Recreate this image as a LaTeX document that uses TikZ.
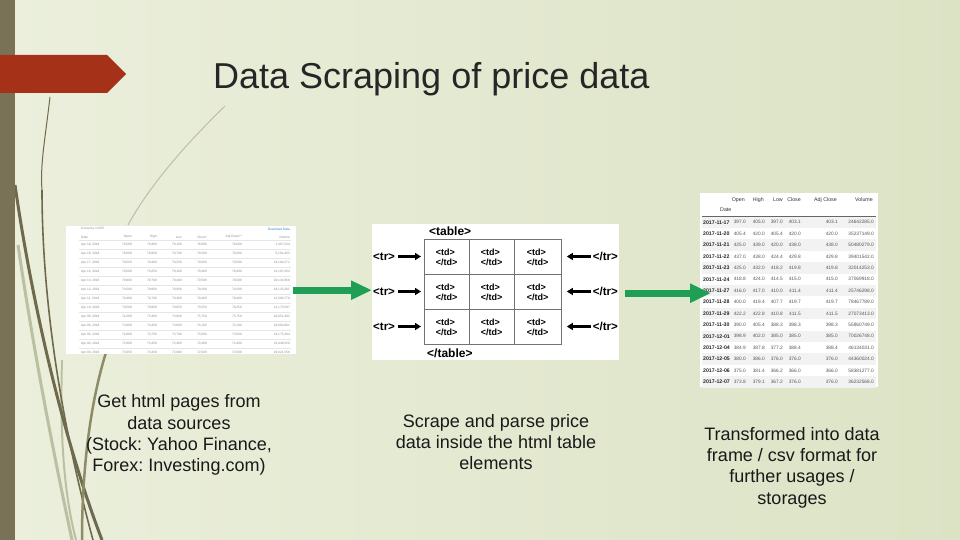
\documentclass[tikz,border=0pt]{standalone}
\usepackage{fontspec}
\setmainfont{Liberation Sans}
\usetikzlibrary{arrows.meta}
\frenchspacing
\definecolor{bgL}{HTML}{EBEFDC}
\definecolor{bgR}{HTML}{DCE3C5}
\definecolor{barcol}{HTML}{7A7256}
\definecolor{redcol}{HTML}{A53218}
\definecolor{wispD}{HTML}{6F6A4B}
\definecolor{wispM}{HTML}{8E8B68}
\definecolor{wispL}{HTML}{BCC0A2}
\definecolor{greenarr}{HTML}{1E9F55}
\definecolor{txtgray}{HTML}{555555}
\definecolor{linkblue}{HTML}{3A7FC4}
\tikzset{
  capt/.style={align=center, font=\fontsize{18}{21.3}\selectfont, text=black!90, inner sep=0},
  greenarrow/.style={draw=greenarr, line width=7pt, -{Triangle[length=21pt,width=18pt]}},
  blackarr/.style={draw=black, line width=2.2pt, -{Triangle[length=6pt,width=7pt]}},
  trtxt/.style={font=\fontsize{11.5}{12}\bfseries\selectfont, inner sep=0},
  tabtxt/.style={font=\fontsize{12}{12}\bfseries\selectfont, inner sep=0},
  celltxt/.style={font=\fontsize{9}{9.5}\bfseries\selectfont, align=left, inner sep=0},
  tinytxt/.style={font=\fontsize{3.2}{3.2}\selectfont, text=black!45, inner sep=0},
  dftxt/.style={font=\fontsize{4.8}{4.8}\selectfont, text=txtgray, inner sep=0},
  dfhdr/.style={font=\fontsize{5.3}{5.3}\selectfont, text=black!80, inner sep=0},
  dfbold/.style={font=\fontsize{5.2}{5.2}\bfseries\selectfont, text=black!85, inner sep=0},
  imgbox/.style={fill=white, inner sep=0, anchor=north west},
}
\begin{document}
\begin{tikzpicture}[x=1pt,y=-1pt]
\useasboundingbox (0,0) rectangle (960,540);
\shade[left color=bgL, right color=bgR] (0,0) rectangle (960,540);
% wisps
\draw[wispL, line width=1pt] (225,106) .. controls (185,145) and (150,185) .. (128,225);
\draw[wispL, line width=3pt] (18,245) .. controls (35,360) and (55,460) .. (72,540);
\draw[wispL, line width=2pt] (62,360) .. controls (60,430) and (63,490) .. (76,540);
\draw[wispD, line width=1pt] (50,97) .. controls (45,140) and (40,165) .. (42,190);
\draw[wispD, line width=1.6pt] (42,190) .. controls (42,280) and (55,400) .. (93,540);
\draw[wispD, line width=3pt] (15,185) .. controls (30,290) and (60,430) .. (102,540);
\draw[wispM, line width=2.5pt] (112,335) .. controls (95,380) and (82,450) .. (82,540);
% left bar and red arrow
\fill[barcol] (0,0) rectangle (15,540);
\fill[redcol] (0,55) -- (107,55) -- (126,74) -- (107,93) -- (0,93) -- cycle;
% title
\node[anchor=base west, font=\fontsize{36}{36}\selectfont, text=black!85, inner sep=0] (title) at (213,89) {Data Scraping of price data};

% ---- left screenshot ----
\node[imgbox, minimum width=230, minimum height=128] (src) at (66,226) {};
\node[tinytxt, anchor=west] (cur) at (81,229) {Currency in IDR};
\node[tinytxt, anchor=east, text=linkblue] (dl) at (290,229) {Download Data};
\foreach \t/\x in {Open/132,High/157,Low/182,Close*/207,Adj Close**/242,Volume/290}
  \node[tinytxt, anchor=east] at (\x,237) {\t};
\node[tinytxt, anchor=west] at (81,237) {Date};
\foreach \d/\o/\h/\l/\c/\v [count=\k] in {
 {Apr 19, 2018}/{78,500}/{79,400}/{78,100}/{78,600}/{1,367,544},
 {Apr 18, 2018}/{78,600}/{78,900}/{78,700}/{79,200}/{5,161,453},
 {Apr 17, 2018}/{79,550}/{79,400}/{79,250}/{79,500}/{18,104,272},
 {Apr 16, 2018}/{79,500}/{79,250}/{79,100}/{79,400}/{12,197,204},
 {Apr 13, 2018}/{79,900}/{79,700}/{79,400}/{79,500}/{20,134,958},
 {Apr 12, 2018}/{79,200}/{79,900}/{78,900}/{79,200}/{18,125,201},
 {Apr 11, 2018}/{79,400}/{79,700}/{79,400}/{79,400}/{12,304,779},
 {Apr 10, 2018}/{79,500}/{79,900}/{79,050}/{79,250}/{21,175,597},
 {Apr 09, 2018}/{74,200}/{75,400}/{73,900}/{75,750}/{40,051,382},
 {Apr 06, 2018}/{73,600}/{74,400}/{73,600}/{74,100}/{26,664,661},
 {Apr 05, 2018}/{72,800}/{73,750}/{72,700}/{73,500}/{24,175,394},
 {Apr 04, 2018}/{72,900}/{73,450}/{72,400}/{72,400}/{23,446,520},
 {Apr 03, 2018}/{73,050}/{73,450}/{72,900}/{72,500}/{29,621,556}} {
  \pgfmathsetmacro{\yy}{245+9*(\k-1)}
  \draw[black!10, line width=0.3pt] (79,\yy-4.5) -- (291,\yy-4.5);
  \node[tinytxt, anchor=west] at (81,\yy) {\d};
  \node[tinytxt, anchor=east] at (132,\yy) {\o};
  \node[tinytxt, anchor=east] at (157,\yy) {\h};
  \node[tinytxt, anchor=east] at (182,\yy) {\l};
  \node[tinytxt, anchor=east] at (207,\yy) {\c};
  \node[tinytxt, anchor=east] at (242,\yy) {\c};
  \node[tinytxt, anchor=east] at (290,\yy) {\v};
}

% ---- middle html table ----
\node[imgbox, minimum width=247, minimum height=136] (html) at (372,224) {};
\node[draw=black!55, line width=0.8pt, inner sep=0, minimum width=137, minimum height=105, anchor=north west] (grid) at (424,239) {};
\draw[black!55, line width=0.8pt] (469,239) -- (469,344) (514,239) -- (514,344)
     (424,274) -- (561,274) (424,309) -- (561,309);
\node[tabtxt, anchor=west] (ttop) at (429,231) {<table>};
\node[tabtxt, anchor=west] (tbot) at (427,353) {</table>};
\foreach \r/\y in {1/256.5,2/291.5,3/326.5} {
  \node[trtxt, anchor=west] (trL\r) at (373,\y) {<tr>};
  \node[trtxt, anchor=east] (trR\r) at (618,\y) {</tr>};
  \draw[blackarr, shorten >=3pt] ([xshift=3pt]trL\r.east) -- (grid.west |- trL\r);
  \draw[blackarr, shorten >=5pt] ([xshift=-2pt]trR\r.west) -- (grid.east |- trR\r);
  \foreach \c/\x in {1/446.5,2/491.5,3/537.5}
    \node[celltxt] (c\r\c) at (\x,\y+1) {<td>\\</td>};
}

% ---- right data frame ----
\node[imgbox, minimum width=178, minimum height=194] (df) at (700,193) {};
\foreach \t/\x in {Open/745,High/764,Low/783,Close/801,Adj Close/837,Volume/873}
  \node[dfhdr, anchor=east] at (\x,200) {\t};
\node[dfhdr, anchor=west] (datehdr) at (720,210) {Date};
\draw[black!60, line width=0.8pt] (702,216) -- (876,216);
\foreach \d/\o/\h/\l/\c/\v [count=\k] in {
 2017-11-17/397.0/405.0/397.0/403.1/24642285.0,
 2017-11-20/405.4/420.0/405.4/420.0/35237149.0,
 2017-11-21/425.0/439.0/420.0/438.0/50480279.0,
 2017-11-22/437.0/438.0/424.4/429.8/39401542.0,
 2017-11-23/425.0/432.0/418.2/419.8/32014253.0,
 2017-11-24/418.8/424.0/414.5/415.0/37069918.0,
 2017-11-27/416.0/417.0/410.0/411.4/25746298.0,
 2017-11-28/400.0/419.4/407.7/419.7/78467789.0,
 2017-11-29/422.2/422.8/410.8/411.5/27073413.0,
 2017-11-30/390.0/405.4/388.3/398.3/55960749.0,
 2017-12-01/398.9/402.0/385.0/385.0/70026748.0,
 2017-12-04/384.9/387.8/377.2/388.4/46134031.0,
 2017-12-05/380.0/386.0/376.0/376.0/44360024.0,
 2017-12-06/375.0/381.4/366.2/366.0/58381277.0,
 2017-12-07/373.8/379.1/367.2/376.0/36232568.0} {
  \pgfmathsetmacro{\yy}{222.3+11.4*(\k-1)}
  \ifodd\k \fill[black!5] (702,\yy-5.7) rectangle (876,\yy+5.7); \fi
  \node[dfbold, anchor=west] at (703,\yy) {\d};
  \node[dftxt, anchor=east] at (746,\yy) {\o};
  \node[dftxt, anchor=east] at (765,\yy) {\h};
  \node[dftxt, anchor=east] at (783,\yy) {\l};
  \node[dftxt, anchor=east] at (801,\yy) {\c};
  \node[dftxt, anchor=east] at (838,\yy) {\c};
  \node[dftxt, anchor=east] at (874,\yy) {\v};
}

% ---- green arrows ----
\draw[greenarrow] ([xshift=-3pt]src.east) -- (src.east -| html.west);
\draw[greenarrow] ([xshift=6pt,yshift=-1pt]html.east) -- ([xshift=11pt,yshift=-1pt]html.east -| df.west);

% ---- captions ----
\node[capt] (cap1) at (179,435) {Get html pages from\\data sources\\(Stock: Yahoo Finance,\\Forex: Investing.com)};
\node[capt] (cap2) at (496,442) {Scrape and parse price\\data inside the html table\\elements};
\node[capt] (cap3) at (792,467.5) {Transformed into data\\frame / csv format for\\further usages /\\storages};
\end{tikzpicture}
\end{document}
